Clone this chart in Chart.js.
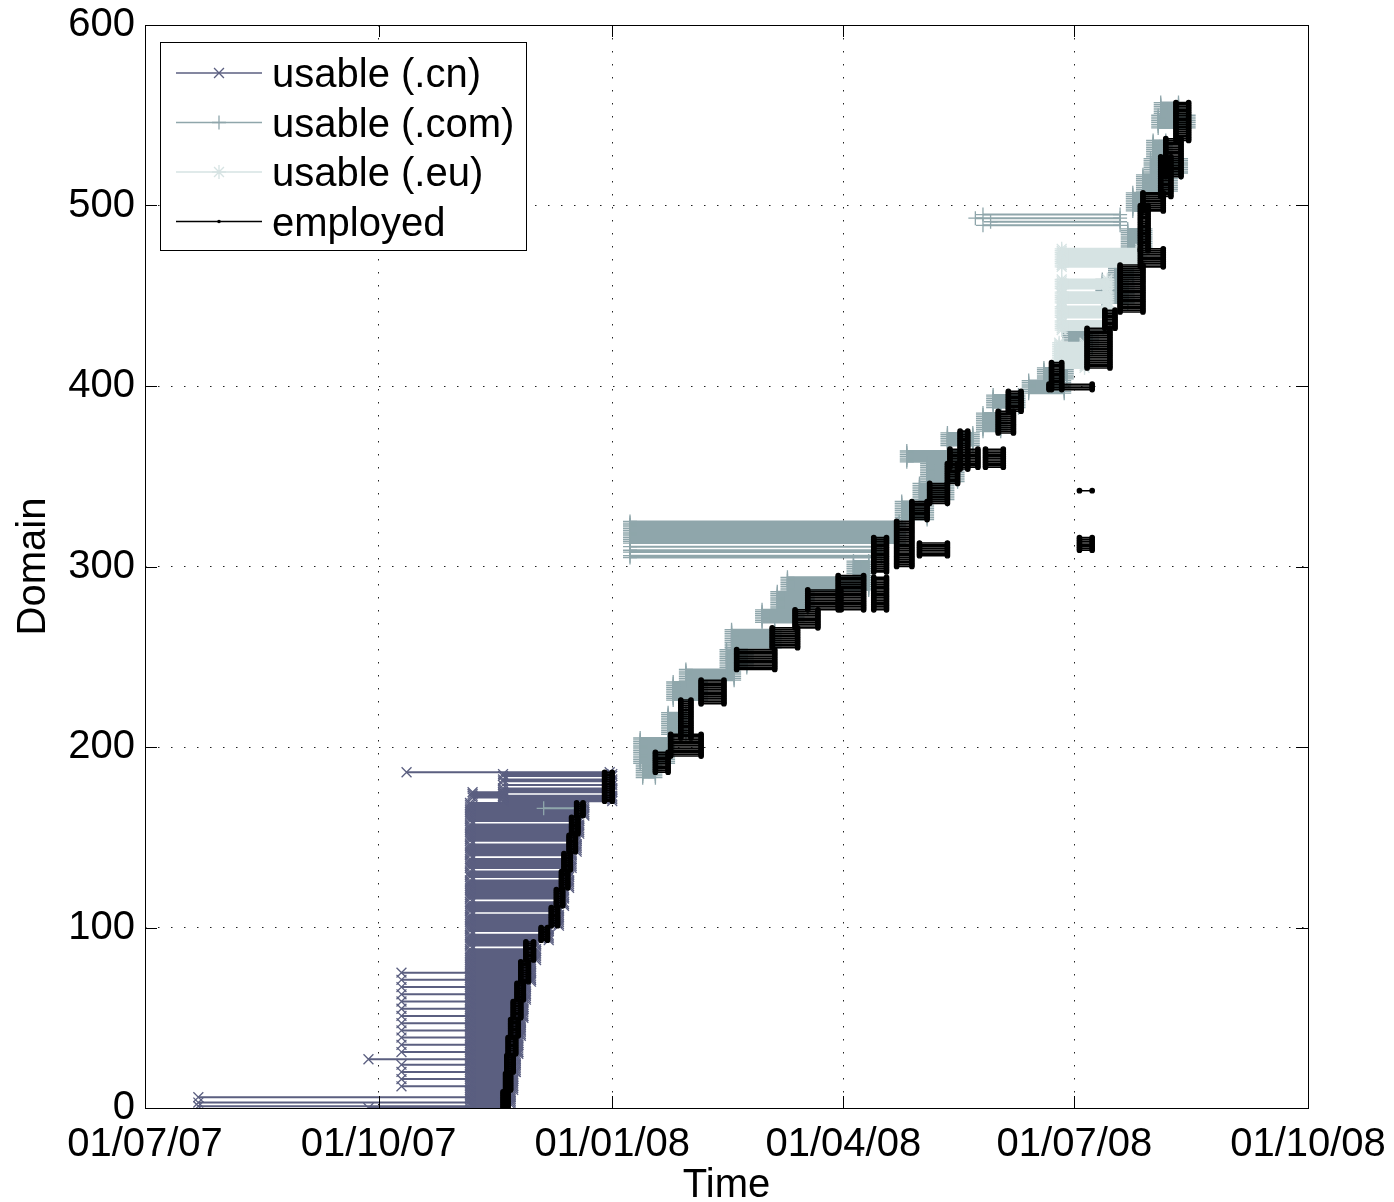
<!DOCTYPE html>
<html>
<head>
<meta charset="utf-8">
<title>Domains usable and employed</title>
<script src="https://cdn.jsdelivr.net/npm/chart.js@4.4.0/dist/chart.umd.min.js"></script>
<style>
  html, body { margin: 0; padding: 0; background: #fff; }
  canvas { display: block; }
</style>
</head>
<body>
<canvas id="domainChart" width="1394" height="1202"></canvas>
<script>
// days counted from 01/07/07 (day 0)
const tickDays = [0, 92, 184, 275, 366, 458];
const tickLabels = ["01/07/07", "01/10/07", "01/01/08", "01/04/08", "01/07/08", "01/10/08"];
const seriesNames = ["usable (.cn)", "usable (.com)", "usable (.eu)", "employed"];
const seriesColors = ["#5b5f80", "#8fa6ab", "#d6e3e3", "#000000"];

// rows: [first domain, last domain, start day, end day]
const cnUsable = [
  [0, 0, 88, 142], [1, 1, 21, 141], [3, 3, 21, 141], [6, 6, 21, 144],
  [2, 9, 128, 144], [10, 19, 128, 145], [20, 29, 128, 146], [30, 39, 128, 147],
  [40, 49, 128, 148], [50, 59, 128, 149], [60, 69, 128, 150], [70, 81, 128, 152],
  [82, 88, 128, 154], [90, 92, 128, 154], [93, 96, 128, 159], [98, 100, 128, 159],
  [101, 107, 128, 163], [109, 111, 128, 163], [112, 114, 128, 165], [116, 121, 128, 165],
  [122, 126, 128, 167], [128, 131, 128, 167], [133, 138, 128, 168], [140, 141, 128, 168],
  [142, 146, 128, 170], [148, 151, 128, 170], [152, 157, 128, 171], [159, 161, 128, 171],
  [162, 169, 128, 173],
  [172, 175, 129, 141],
  [170, 173, 141, 184], [175, 177, 141, 184], [179, 179, 141, 184], [181, 182, 141, 184], [184, 185, 141, 184],
  [186, 186, 103, 183],
  [12, 12, 101, 145], [16, 16, 101, 145], [20, 20, 101, 146], [24, 24, 101, 146],
  [27, 27, 88, 146], [31, 31, 101, 147], [35, 35, 101, 147], [39, 39, 101, 147],
  [43, 43, 101, 148], [47, 47, 101, 148], [51, 51, 101, 149], [55, 55, 101, 149],
  [59, 59, 101, 149], [63, 63, 101, 150], [67, 67, 101, 150], [71, 71, 101, 152],
  [75, 75, 101, 152]
];

const comUsable = [
  [166, 166, 157, 171],
  [183, 190, 196, 201], [191, 205, 195, 206], [207, 219, 206, 213],
  [226, 236, 208, 219], [237, 243, 213, 232], [244, 254, 229, 237],
  [255, 265, 231, 248], [269, 276, 243, 257], [277, 286, 249, 261],
  [287, 294, 253, 285], [295, 303, 279, 285],
  [305, 306, 191, 290], [308, 309, 191, 290], [311, 311, 191, 290], [313, 325, 191, 297],
  [326, 336, 298, 308], [337, 346, 305, 316], [347, 357, 308, 320],
  [358, 364, 300, 321], [367, 374, 316, 326], [375, 385, 330, 337],
  [388, 395, 334, 344], [396, 403, 348, 362], [404, 410, 354, 363],
  [421, 431, 364, 373], [446, 459, 377, 387], [460, 467, 382, 389],
  [477, 487, 387, 394],
  [489, 489, 330, 384], [491, 491, 333, 384], [493, 493, 327, 384], [495, 495, 330, 384],
  [497, 507, 389, 393], [508, 517, 393, 404], [518, 526, 396, 408],
  [527, 536, 397, 402], [543, 550, 399, 411], [551, 557, 400, 407]
];

const euUsable = [
  [410, 424, 360, 370],
  [431, 436, 361, 379], [438, 444, 361, 379], [446, 452, 361, 379], [454, 459, 361, 379],
  [466, 476, 361, 392]
];

const employed = [
  [0, 9, 141, 143], [10, 19, 142, 144], [20, 29, 142.5, 145], [30, 39, 143, 146],
  [40, 49, 144, 147], [50, 59, 145, 148], [60, 69, 146.5, 149], [70, 81, 148, 151],
  [82, 92, 150, 153], [93, 100, 156, 158.5], [101, 111, 160, 162.5], [112, 121, 162, 164.5],
  [122, 131, 164, 166.5], [132, 141, 165, 167.5], [142, 151, 167, 169.5], [152, 161, 168, 170.5],
  [162, 169, 170, 172.5], [170, 186, 181, 184],
  [186, 197, 201, 206], [195, 207, 207, 219], [205, 226, 211, 215], [224, 237, 219, 228],
  [243, 254, 233, 248], [255, 266, 247, 257], [266, 276, 256, 265], [276, 287, 261, 274],
  [276, 295, 273, 283], [276, 294, 287, 292], [297, 316, 287, 292], [300, 325, 296, 302],
  [306, 313, 305, 316], [326, 336, 302, 308], [335, 346, 309, 316], [346, 357, 316, 320],
  [355, 365, 317, 328], [355, 365, 331, 338], [354, 375, 321, 324], [374, 386, 336, 342],
  [386, 397, 340, 345], [398, 401, 356, 373], [342, 342, 368, 373], [309, 316, 368, 373],
  [398, 413, 357, 361], [410, 432, 371, 380], [432, 442, 378, 382], [441, 467, 384, 393],
  [466, 476, 392, 401], [475, 500, 392, 395], [497, 507, 393, 401], [505, 527, 400, 404],
  [516, 537, 402, 408], [536, 557, 406, 411]
];

// one horizontal segment per domain, broken by gaps
function toSegments(rows) {
  const pts = [];
  rows.forEach(([d0, d1, s, e]) => {
    for (let d = d0; d <= d1; d++) {
      pts.push({ x: s, y: d }, { x: e, y: d }, { x: null, y: null });
    }
  });
  return pts;
}

const pointStyles = ["crossRot", "cross", "star", "circle"];
const pointSizes = [7, 7, 7, 2.2];
const lineWidths = [2, 2, 2, 1.6];

function markerPath(ctx, style, x, y, r) {
  ctx.beginPath();
  if (style === "circle") {
    ctx.arc(x, y, r, 0, Math.PI * 2);
    ctx.fill();
    return;
  }
  const c = r * Math.SQRT1_2;
  if (style === "cross" || style === "star") {
    ctx.moveTo(x - r, y); ctx.lineTo(x + r, y);
    ctx.moveTo(x, y - r); ctx.lineTo(x, y + r);
  }
  if (style === "crossRot" || style === "star") {
    ctx.moveTo(x - c, y - c); ctx.lineTo(x + c, y + c);
    ctx.moveTo(x - c, y + c); ctx.lineTo(x + c, y - c);
  }
  ctx.stroke();
}

const frameAndLegend = {
  id: "frameAndLegend",
  afterDraw(chart) {
    const { ctx, chartArea: a } = chart;
    const xs = chart.scales.x, ys = chart.scales.y;
    ctx.save();
    // box and inward ticks
    ctx.strokeStyle = "#000";
    ctx.lineWidth = 1;
    ctx.strokeRect(a.left + 0.5, a.top + 0.5, a.right - a.left, a.bottom - a.top);
    ctx.beginPath();
    tickDays.forEach(v => {
      const px = Math.round(xs.getPixelForValue(v)) + 0.5;
      ctx.moveTo(px, a.bottom); ctx.lineTo(px, a.bottom - 12);
      ctx.moveTo(px, a.top); ctx.lineTo(px, a.top + 12);
    });
    ys.ticks.forEach(t => {
      const py = Math.round(ys.getPixelForValue(t.value)) + 0.5;
      ctx.moveTo(a.left, py); ctx.lineTo(a.left + 12, py);
      ctx.moveTo(a.right, py); ctx.lineTo(a.right - 12, py);
    });
    ctx.stroke();

    // legend box in upper left
    const lx = a.left + 15, ly = a.top + 17, lw = 366, lh = 208;
    ctx.fillStyle = "#fff";
    ctx.fillRect(lx, ly, lw, lh);
    ctx.strokeRect(lx + 0.5, ly + 0.5, lw, lh);
    ctx.font = '40px "Liberation Sans", Arial, sans-serif';
    ctx.textBaseline = "alphabetic";
    seriesNames.forEach((name, i) => {
      const y = ly + 31 + i * 49.5;
      ctx.strokeStyle = seriesColors[i];
      ctx.fillStyle = seriesColors[i];
      ctx.lineWidth = 1.5;
      ctx.beginPath();
      ctx.moveTo(lx + 16, y); ctx.lineTo(lx + 102, y);
      ctx.stroke();
      ctx.lineWidth = 1.3;
      markerPath(ctx, pointStyles[i], lx + 59, y, i === 3 ? 1.8 : pointSizes[i]);
      ctx.fillStyle = "#000";
      ctx.fillText(name, lx + 112, y + 14);
    });
    ctx.restore();
  }
};

const seriesRows = [cnUsable, comUsable, euUsable, employed];
const datasets = seriesRows.map((rows, i) => ({
  label: seriesNames[i],
  data: toSegments(rows),
  borderColor: seriesColors[i],
  backgroundColor: seriesColors[i],
  borderWidth: lineWidths[i],
  pointStyle: pointStyles[i],
  pointRadius: pointSizes[i],
  pointBorderWidth: 1.3,
  pointBorderColor: seriesColors[i],
  pointBackgroundColor: seriesColors[i],
  spanGaps: false,
  tension: 0,
  order: 4 - i
}));

Chart.defaults.font.family = '"Liberation Sans", Arial, sans-serif';
Chart.defaults.font.size = 40;
Chart.defaults.color = "#000";

new Chart(document.getElementById("domainChart"), {
  type: "line",
  data: { datasets },
  plugins: [frameAndLegend],
  options: {
    responsive: false,
    animation: false,
    events: [],
    devicePixelRatio: 1,
    layout: { padding: { top: 25, right: 86, left: 0, bottom: 0 } },
    plugins: { legend: { display: false }, tooltip: { enabled: false } },
    scales: {
      x: {
        type: "linear",
        min: tickDays[0],
        max: tickDays[tickDays.length - 1],
        afterBuildTicks: s => { s.ticks = tickDays.map(v => ({ value: v })); },
        afterFit: s => { s.height = 94; s.paddingLeft = 0; s.paddingRight = 0; },
        ticks: { callback: (v, i) => tickLabels[i], padding: 13, maxRotation: 0, autoSkip: false },
        grid: { color: "#222", lineWidth: 1, drawTicks: false },
        border: { display: false, dash: [1.5, 11.5] },
        title: { display: true, text: "Time", font: { size: 40, lineHeight: 1 }, padding: { top: 0, bottom: -4 } }
      },
      y: {
        min: 0,
        max: 600,
        ticks: { stepSize: 100, padding: 10 },
        afterFit: s => { s.width = 145; s.paddingTop = 0; s.paddingBottom = 0; },
        grid: { color: "#222", lineWidth: 1, drawTicks: false },
        border: { display: false, dash: [1.5, 11.5] },
        title: { display: true, text: "Domain", font: { size: 40, lineHeight: 1 }, padding: { top: 14, bottom: 0 } }
      }
    }
  }
});
</script>
</body>
</html>
